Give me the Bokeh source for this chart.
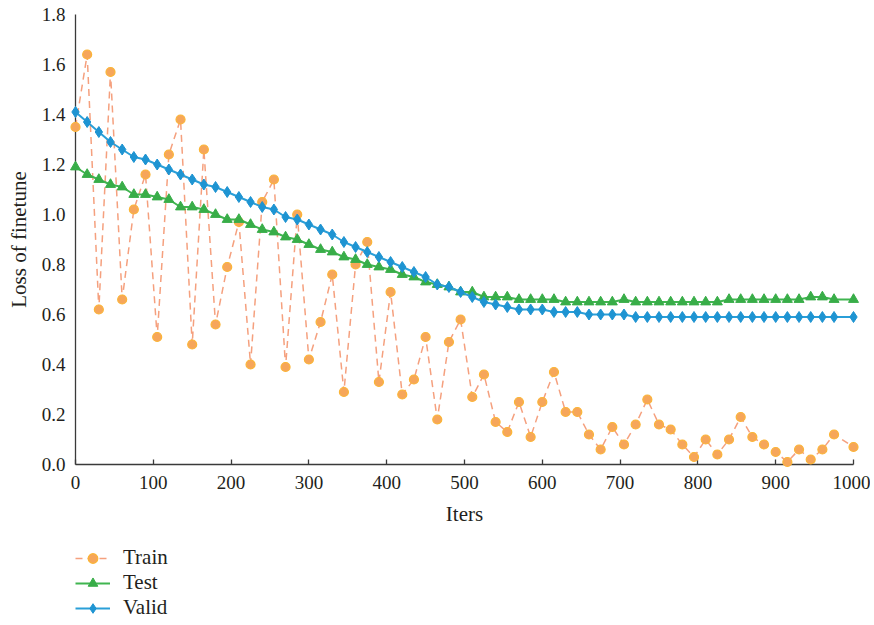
from bokeh.plotting import figure
from bokeh.layouts import column
from bokeh.models import Legend, LegendItem, FixedTicker, NumeralTickFormatter, Range1d
from bokeh.embed import file_html
from bokeh.resources import INLINE

iters = [0, 15, 30, 45, 60, 75, 90, 105, 120, 135, 150, 165, 180, 195, 210, 225,
         240, 255, 270, 285, 300, 315, 330, 345, 360, 375, 390, 405, 420, 435, 450,
         465, 480, 495, 510, 525, 540, 555, 570, 585, 600, 615, 630, 645, 660, 675,
         690, 705, 720, 735, 750, 765, 780, 795, 810, 825, 840, 855, 870, 885, 900,
         915, 930, 945, 960, 975, 1000]

train = [1.35, 1.64, 0.62, 1.57, 0.66, 1.02, 1.16, 0.51, 1.24, 1.38, 0.48, 1.26,
         0.56, 0.79, 0.97, 0.40, 1.05, 1.14, 0.39, 1.00, 0.42, 0.57, 0.76, 0.29,
         0.80, 0.89, 0.33, 0.69, 0.28, 0.34, 0.51, 0.18, 0.49, 0.58, 0.27, 0.36,
         0.17, 0.13, 0.25, 0.11, 0.25, 0.37, 0.21, 0.21, 0.12, 0.06, 0.15, 0.08,
         0.16, 0.26, 0.16, 0.14, 0.08, 0.03, 0.10, 0.04, 0.10, 0.19, 0.11, 0.08,
         0.05, 0.01, 0.06, 0.02, 0.06, 0.12, 0.07]

test = [1.19, 1.16, 1.14, 1.12, 1.11, 1.08, 1.08, 1.07, 1.06, 1.03, 1.03, 1.02,
        1.00, 0.98, 0.98, 0.96, 0.94, 0.93, 0.91, 0.90, 0.88, 0.86, 0.85, 0.83,
        0.82, 0.80, 0.79, 0.78, 0.76, 0.75, 0.73, 0.72, 0.71, 0.69, 0.69, 0.67,
        0.67, 0.67, 0.66, 0.66, 0.66, 0.66, 0.65, 0.65, 0.65, 0.65, 0.65, 0.66,
        0.65, 0.65, 0.65, 0.65, 0.65, 0.65, 0.65, 0.65, 0.66, 0.66, 0.66, 0.66,
        0.66, 0.66, 0.66, 0.67, 0.67, 0.66, 0.66]

valid = [1.41, 1.37, 1.33, 1.29, 1.26, 1.23, 1.22, 1.20, 1.18, 1.16, 1.14, 1.12,
         1.11, 1.09, 1.07, 1.05, 1.03, 1.02, 0.99, 0.98, 0.96, 0.94, 0.92, 0.89,
         0.87, 0.85, 0.83, 0.81, 0.79, 0.77, 0.75, 0.72, 0.71, 0.69, 0.67, 0.65,
         0.64, 0.63, 0.62, 0.62, 0.62, 0.61, 0.61, 0.61, 0.60, 0.60, 0.60, 0.60,
         0.59, 0.59, 0.59, 0.59, 0.59, 0.59, 0.59, 0.59, 0.59, 0.59, 0.59, 0.59,
         0.59, 0.59, 0.59, 0.59, 0.59, 0.59, 0.59]

series_names = ["Train", "Test", "Valid"]
x_ticks = [0, 100, 200, 300, 400, 500, 600, 700, 800, 900, 1000]
y_ticks = [0.0, 0.2, 0.4, 0.6, 0.8, 1.0, 1.2, 1.4, 1.6, 1.8]

FONT = "Liberation Serif"
TXT = "#231F20"
AX = "#3a3a3a"

STYLE = {
    "Train": dict(line=dict(line_color="#F5A07E", line_width=1.5, line_dash="7 5"),
                  pts=dict(marker="circle", size=9, fill_color="#F6A65A",
                           line_color="#FBB535", line_width=1.2)),
    "Test": dict(line=dict(line_color="#40B550", line_width=2),
                 pts=dict(marker="triangle", size=10, fill_color="#38AD48",
                          line_color="#38AD48", line_width=1)),
    "Valid": dict(line=dict(line_color="#2A9FD8", line_width=2),
                  pts=dict(marker="diamond", size=11, fill_color="#1E94D2",
                           line_color="#1E94D2", line_width=1)),
}
SERIES = {"Train": train, "Test": test, "Valid": valid}

p = figure(width=870, height=540, x_range=Range1d(0, 1000), y_range=Range1d(0, 1.8),
           output_backend="svg", toolbar_location=None,
           min_border_left=75, min_border_right=17, min_border_top=14, min_border_bottom=76)
p.xgrid.visible = False
p.ygrid.visible = False
p.outline_line_color = None
p.background_fill_color = "white"
p.border_fill_color = "white"

for name in series_names:
    r1 = p.line(iters, SERIES[name], **STYLE[name]["line"])
    r2 = p.scatter(iters, SERIES[name], **STYLE[name]["pts"])
    r1.level = "overlay"
    r2.level = "overlay"

# axes
p.xaxis.ticker = FixedTicker(ticks=x_ticks)
p.yaxis.ticker = FixedTicker(ticks=y_ticks)
p.yaxis.formatter = NumeralTickFormatter(format="0.0")
p.xaxis.axis_label = "Iters"
p.yaxis.axis_label = "Loss of finetune"
for ax in [p.xaxis[0], p.yaxis[0]]:
    ax.axis_line_color = AX
    ax.axis_line_width = 1.3
    ax.major_tick_line_color = AX
    ax.major_tick_line_width = 1.3
    ax.minor_tick_line_color = None
    ax.major_label_text_font = FONT
    ax.major_label_text_font_size = "19px"
    ax.major_label_text_color = TXT
    ax.axis_label_text_font = FONT
    ax.axis_label_text_font_size = "21px"
    ax.axis_label_text_font_style = "normal"
    ax.axis_label_text_color = TXT

p.xaxis.major_tick_in = 5
p.xaxis.major_tick_out = 0
p.xaxis.major_label_standoff = 11
p.xaxis.axis_label_standoff = 10
p.yaxis.major_tick_in = 0
p.yaxis.major_tick_out = 0
p.yaxis.major_label_standoff = 10
p.yaxis.axis_label_standoff = 8

# legend strip below the chart (its series lie outside its visible range)
lg = figure(width=870, height=82, x_range=Range1d(-3000, -2000), y_range=Range1d(0, 1),
            output_backend="svg", toolbar_location=None,
            x_axis_location=None, y_axis_location=None,
            min_border_left=0, min_border_right=0, min_border_top=0, min_border_bottom=0)
lg.xgrid.visible = False
lg.ygrid.visible = False
lg.outline_line_color = None
lg.background_fill_color = "white"
lg.border_fill_color = "white"

items = []
for name in series_names:
    a = lg.line(iters, SERIES[name], **STYLE[name]["line"])
    b = lg.scatter(iters, SERIES[name], **STYLE[name]["pts"])
    items.append(LegendItem(label=name, renderers=[a, b]))

legend = Legend(items=items, location=(0, 2), orientation="vertical")
legend.label_text_font = FONT
legend.label_text_font_size = "21px"
legend.label_text_color = TXT
legend.glyph_width = 35
legend.glyph_height = 24
legend.label_height = 24
legend.label_standoff = 13
legend.spacing = 0
legend.padding = 0
legend.margin = 0
legend.border_line_color = None
legend.background_fill_alpha = 0
lg.add_layout(legend, "center")

layout = column(p, lg, spacing=0)
open("out.html", "w").write(file_html(layout, INLINE))
